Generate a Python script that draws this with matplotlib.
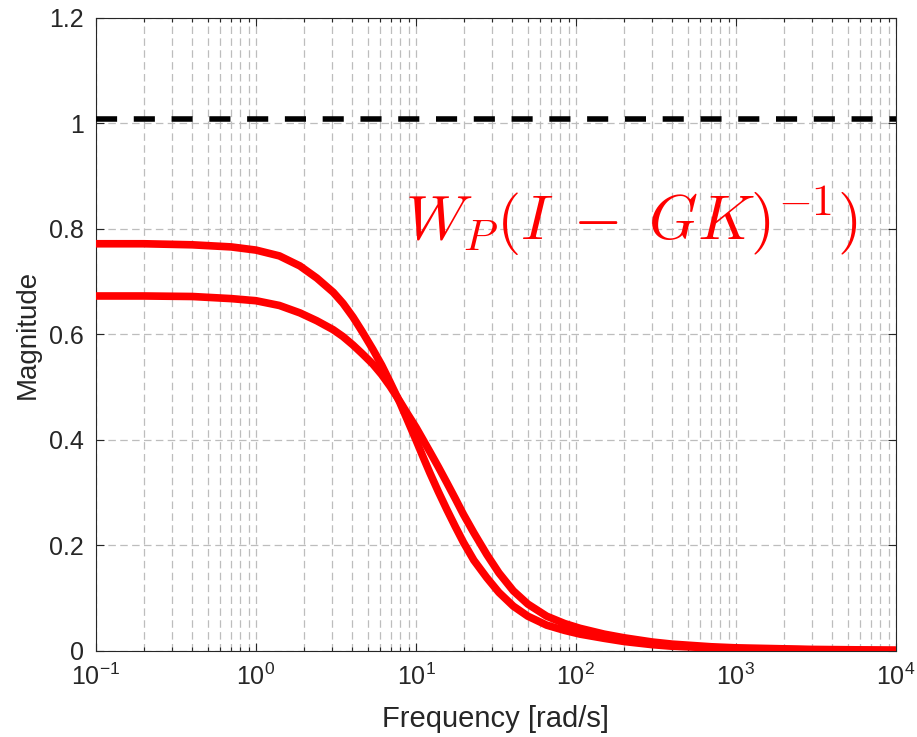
import numpy as np
import matplotlib
matplotlib.use("Agg")
import matplotlib.pyplot as plt
from matplotlib.ticker import LogLocator, NullFormatter, FixedLocator

# Data
freq_a = [0.1, 0.2, 0.4, 0.7, 1.0, 1.4, 1.88, 2.4, 3.04, 3.5, 4.04, 4.6, 5.37, 6.1, 6.88,
          7.9, 8.75, 10.0, 11.0, 12.2, 13.8, 15.6, 17.6, 19.8, 23.0, 27.7, 33.0, 40.6, 50.0,
          65.6, 85.0, 106.0, 150.0, 200.0, 300.0, 400.0, 700.0, 1000.0, 3000.0, 10000.0]
mag_a = [0.772, 0.772, 0.770, 0.766, 0.760, 0.749, 0.730, 0.707, 0.680, 0.659, 0.633, 0.606,
         0.572, 0.542, 0.510, 0.472, 0.441, 0.400, 0.370, 0.338, 0.302, 0.268, 0.236, 0.206,
         0.172, 0.139, 0.111, 0.085, 0.066, 0.049, 0.039, 0.032, 0.024, 0.018, 0.012, 0.009,
         0.006, 0.0045, 0.002, 0.001]

freq_b = [0.1, 0.2, 0.4, 0.7, 1.0, 1.4, 1.88, 2.4, 3.04, 3.5, 4.04, 4.6, 5.37, 6.1, 6.88,
          7.9, 8.75, 10.0, 11.0, 12.2, 13.8, 15.6, 17.6, 19.8, 23.0, 27.7, 33.0, 40.6, 50.0,
          65.6, 85.0, 106.0, 150.0, 200.0, 300.0, 400.0, 700.0, 1000.0, 3000.0, 10000.0]
mag_b = [0.673, 0.673, 0.672, 0.668, 0.664, 0.655, 0.641, 0.626, 0.609, 0.596, 0.580, 0.564,
         0.544, 0.524, 0.502, 0.474, 0.452, 0.424, 0.402, 0.378, 0.349, 0.319, 0.289, 0.259,
         0.224, 0.183, 0.148, 0.114, 0.089, 0.066, 0.052, 0.043, 0.032, 0.025, 0.017, 0.013,
         0.008, 0.006, 0.003, 0.0015]

ref_level = 1.008
x_ticks = [1e-1, 1e0, 1e1, 1e2, 1e3, 1e4]
x_tick_labels = [r"$10^{-1}$", r"$10^{0}$", r"$10^{1}$", r"$10^{2}$", r"$10^{3}$", r"$10^{4}$"]
y_ticks = [0, 0.2, 0.4, 0.6, 0.8, 1.0, 1.2]
y_tick_labels = ["0", "0.2", "0.4", "0.6", "0.8", "1", "1.2"]

plt.rcParams['font.family'] = ['Liberation Sans', 'DejaVu Sans']
plt.rcParams['mathtext.fontset'] = 'custom'
plt.rcParams['mathtext.rm'] = 'Liberation Sans'
plt.rcParams['mathtext.it'] = 'Liberation Sans:italic'

axcol = '#262626'
gridcol = '#bdbdbd'
fig = plt.figure(figsize=(9.17, 7.37), dpi=100)
ax = fig.add_axes([0.1047, 0.1167, 0.8723, 0.8589])

for f, m in ((freq_a, mag_a), (freq_b, mag_b)):
    ax.plot(f, m, color='red', lw=5.5, solid_capstyle='butt',
            solid_joinstyle='round', zorder=3)
ax.axhline(ref_level, color='black', lw=4.0, ls=(0, (3.8, 3.0)), zorder=4)

ax.set_xscale('log')
ax.set_xlim(1e-1, 1e4)
ax.set_ylim(0, 1.2)
ax.xaxis.set_major_locator(FixedLocator(x_ticks))
ax.set_xticklabels(x_tick_labels)
ax.xaxis.set_minor_locator(LogLocator(base=10, subs=np.arange(2, 10)))
ax.xaxis.set_minor_formatter(NullFormatter())
ax.set_yticks(y_ticks)
ax.set_yticklabels(y_tick_labels)

ax.grid(True, which='major', axis='both', color=gridcol, ls=(0, (6, 3.5)), lw=0.9)
ax.grid(True, which='minor', axis='x', color=gridcol, ls=(0, (6, 3.5)), lw=0.9)
ax.set_axisbelow(True)

ax.tick_params(which='both', direction='in', top=True, right=True, colors=axcol,
               labelsize=18, labelcolor=axcol)
ax.tick_params(which='major', length=6, width=0.8)
ax.tick_params(which='minor', length=3, width=0.8)
ax.tick_params(axis='x', pad=9)
ax.tick_params(axis='y', pad=9)
for s in ax.spines.values():
    s.set_color(axcol)
    s.set_linewidth(0.8)

ax.set_xlabel('Frequency [rad/s]', fontsize=21, color=axcol, labelpad=11)
ax.set_ylabel('Magnitude', fontsize=20, color=axcol, labelpad=6)

ax.text(8.6, 0.78, r"$W_P(I\;-\;GK)^{-1})$", color='red', fontsize=45,
        math_fontfamily='cm', va='baseline', ha='left', zorder=5)

fig.savefig('out.png', dpi=100, facecolor='white')
